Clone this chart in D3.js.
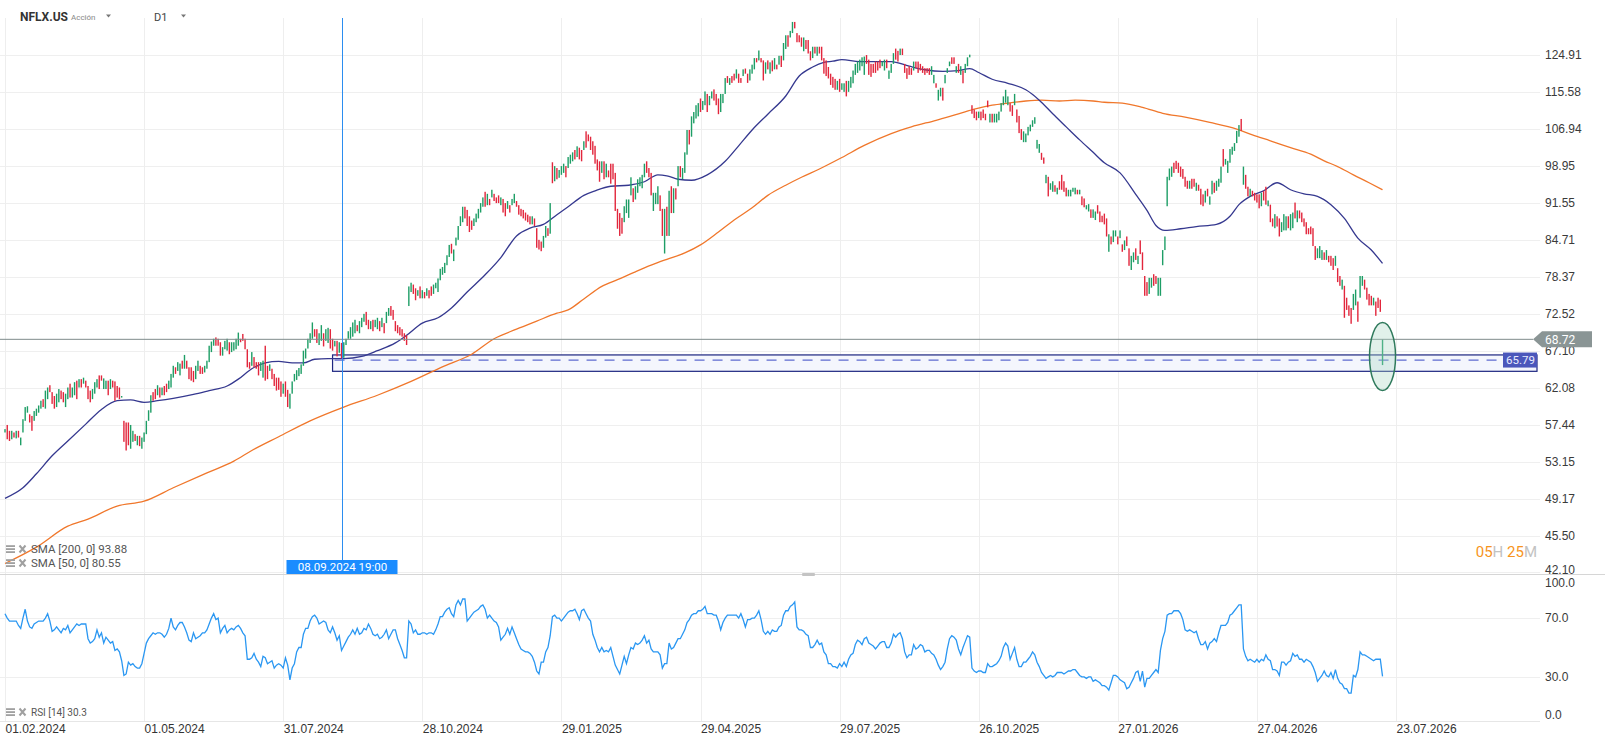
<!DOCTYPE html>
<html>
<head>
<meta charset="utf-8">
<script src="https://cdn.jsdelivr.net/npm/d3@7"></script>
<style>
  html, body { margin: 0; padding: 0; background: #fff; }
  svg { display: block; font-family: Roboto, "Noto Sans", sans-serif; }
</style>
</head>
<body>
<svg id="chart" width="1605" height="747"></svg>
<script>
// NFLX.US daily candles with SMA 200 / SMA 50 and RSI 14.
// Candle bars are ~1.5px wide at this zoom, so open/close are the visible bar ends.

const symbol = "NFLX.US";
const assetType = "Acción";
const interval = "D1";

const opens = [
  56.5,57.4,56.7,55.7,56.5,55.8,56.7,55.0,56.5,57.9, 58.9,58.7,58.5,57.9,58.5,58.9,59.4,60.6,59.4,60.6,
  62.4,61.5,61.0,59.6,60.2,61.7,61.5,59.6,60.6,62.6, 60.8,61.1,63.0,62.1,63.2,62.6,63.0,62.3,61.7,60.6,
  61.3,62.1,63.7,63.7,61.9,61.9,63.0,61.9,63.0,62.9, 62.3,62.1,60.8,57.9,57.7,57.7,54.6,55.4,56.3,55.0,
  56.1,54.6,55.4,56.3,57.9,58.9,61.5,61.9,61.1,62.1, 61.1,62.3,62.6,61.9,62.1,63.4,64.8,64.3,63.7,65.7,
  64.6,65.7,64.8,64.8,64.3,63.2,64.3,65.0,64.8,64.1, 64.6,65.5,66.9,67.8,69.0,68.8,68.3,66.4,67.3,67.1,
  68.3,66.9,67.1,67.3,67.8,68.8,69.5,68.8,67.3,65.5, 65.0,66.2,65.5,65.5,64.3,63.4,67.8,65.0,64.3,64.6,
  63.9,63.4,63.4,62.9,61.3,62.9,61.8,59.4,61.3,62.9, 63.1,63.6,63.9,65.0,66.0,67.4,68.2,68.8,70.2,70.2,
  67.9,68.5,69.6,68.5,68.2,70.2,68.8,67.7,68.5,66.8, 68.2,66.1,67.9,68.8,68.8,69.1,69.6,70.8,69.6,70.5,
  71.3,72.8,71.6,70.2,71.6,70.5,70.2,71.4,70.5,71.1, 71.1,72.2,73.7,73.1,71.4,70.8,70.5,70.2,69.6,69.3,
  73.7,75.9,77.1,76.5,75.3,76.8,74.9,75.9,75.3,76.2, 76.8,75.6,76.5,75.9,77.8,78.7,79.0,80.3,81.7,84.0,
  81.0,83.7,84.7,87.2,87.9,90.8,90.2,89.0,88.2,87.2, 87.9,88.6,89.7,90.8,93.7,91.1,92.3,92.6,93.3,92.6,
  93.0,91.1,92.3,91.5,90.4,91.1,91.1,91.5,91.9,91.1, 90.4,90.2,89.7,89.3,89.0,87.5,88.6,86.8,84.7,84.4,
  83.3,85.1,86.8,85.8,99.7,95.8,98.5,96.5,97.1,97.5, 98.9,98.5,99.4,99.9,102.3,100.8,102.8,102.3,102.3,106.4,
  105.7,105.2,104.2,103.2,100.3,99.9,97.5,99.9,96.6,98.0, 99.4,99.4,97.5,90.4,89.6,88.7,87.9,89.6,88.7,93.0,
  94.4,92.2,93.5,94.8,94.4,96.6,99.9,98.5,97.5,90.0, 91.3,91.3,93.0,90.4,82.3,90.8,85.4,94.8,89.6,94.4,
  94.8,98.9,96.2,97.5,101.3,106.7,105.2,108.2,109.3,109.8, 114.0,111.3,112.4,115.1,112.4,114.0,116.2,115.1,114.0,110.8,
  112.9,115.1,119.5,117.3,119.5,120.1,118.9,120.1,119.0,119.5, 121.4,120.1,118.4,120.1,121.2,124.1,123.5,124.1,123.5,120.1,
  123.5,120.1,123.5,121.2,122.4,122.4,124.7,123.5,126.5,130.2, 129.6,130.8,133.9,130.8,130.2,129.6,125.9,128.9,128.9,125.9,
  124.1,127.1,124.7,127.1,127.1,124.1,123.5,121.8,120.1,119.3, 118.8,116.1,118.8,116.1,115.6,118.3,115.6,116.6,117.7,119.8,
  120.3,120.9,122.0,119.8,124.9,123.7,122.6,122.6,123.2,123.2, 123.7,122.0,120.9,123.7,118.8,120.3,122.6,126.6,126.0,124.9,
  126.6,122.6,121.5,122.0,121.5,120.9,123.2,123.2,122.6,122.0, 121.5,121.5,121.5,119.8,117.7,117.7,113.5,114.5,116.6,117.7,
  120.3,122.0,124.3,124.3,120.3,122.6,119.8,120.9,120.3,122.0, 124.3,112.4,111.4,110.9,109.4,110.9,111.4,110.4,113.5,108.4,
  110.4,108.4,108.4,108.9,110.9,112.4,113.0,112.4,112.9,112.4, 112.4,111.4,109.9,106.9,104.0,104.0,105.5,106.4,107.4,108.1,
  102.6,101.7,101.7,100.7,95.4,96.7,94.1,93.7,95.0,93.2, 95.8,97.1,95.8,94.5,92.8,92.8,93.7,93.2,94.1,93.2,
  92.8,92.4,90.3,89.9,90.3,88.7,88.3,91.1,89.9,89.1, 89.5,88.6,82.6,85.3,84.3,85.3,85.3,85.0,83.9,82.9,
  85.3,83.2,79.5,80.8,83.2,80.5,84.6,82.5,78.5,77.5, 75.6,76.6,78.8,78.5,75.3,75.3,80.3,82.9,90.9,96.0,
  96.7,99.6,100.0,99.6,98.8,98.3,96.7,95.9,94.3,96.3, 96.3,93.9,95.1,94.3,93.2,91.6,94.3,91.2,93.2,95.5,
  93.9,94.7,95.5,102.5,99.2,97.5,99.6,101.3,102.1,103.8, 105.2,109.2,95.1,97.1,94.7,92.8,93.9,93.5,93.2,93.2,
  90.9,93.9,94.7,90.9,91.2,88.6,86.8,89.0,88.6,86.1, 86.4,86.4,89.0,86.4,86.8,91.6,87.9,90.1,89.7,88.6,
  87.9,86.8,87.1,86.8,83.6,81.5,81.5,81.2,82.5,81.2, 81.9,81.9,81.5,80.2,79.8,78.5,76.3,76.9,75.0,73.8,
  73.4,73.1,73.8,74.4,75.0,76.9,77.9,76.6,75.6,75.3, 73.8,74.4,75.0,74.7,65.1
];

const closes = [
  56.9,55.7,55.5,56.7,55.9,56.7,55.9,55.9,58.1,59.6, 59.7,57.7,56.7,59.1,59.4,59.8,60.4,59.6,61.7,62.1,
  61.5,60.0,59.4,61.3,61.9,60.6,60.2,61.3,62.1,60.8, 62.1,62.8,60.6,63.2,62.1,63.4,62.1,60.6,60.2,61.9,
  62.8,63.2,61.9,63.0,63.3,63.0,61.1,63.2,62.1,60.4, 60.8,60.6,61.0,55.4,54.4,55.0,57.4,56.7,55.5,56.1,
  54.9,55.9,56.5,57.9,59.2,61.1,60.4,60.6,62.4,60.8, 62.1,61.1,61.5,63.0,63.9,65.0,63.9,65.5,65.3,64.6,
  66.5,64.6,63.2,63.0,62.8,65.0,65.7,63.9,63.9,65.0, 65.7,67.8,68.4,68.8,67.8,67.8,66.4,67.6,68.5,68.8,
  66.6,68.3,68.3,68.8,69.7,68.3,68.5,67.3,64.8,64.6, 66.9,64.8,64.6,63.7,65.5,65.7,63.0,63.2,65.2,63.2,
  62.3,61.7,61.8,60.9,62.6,60.9,59.6,61.3,62.9,63.9, 64.4,64.7,65.2,67.1,67.4,68.8,69.6,71.2,69.1,68.2,
  69.6,70.8,67.7,70.2,70.4,67.4,67.1,68.5,66.3,68.3, 66.0,68.3,68.8,69.9,70.5,71.2,71.6,69.9,71.4,71.9,
  72.5,70.8,70.2,71.4,69.9,71.6,71.9,69.9,71.9,69.6, 72.8,73.4,72.2,71.6,69.9,69.6,69.3,69.1,68.5,67.9,
  76.8,77.4,75.6,74.6,76.2,74.9,76.2,74.9,76.5,74.9, 75.3,77.1,77.4,78.1,79.7,80.0,80.7,82.0,83.8,82.3,
  83.0,85.1,87.2,89.0,90.8,88.6,87.2,86.1,86.5,88.6, 89.5,90.4,91.5,92.6,90.8,93.3,91.1,94.1,91.9,91.5,
  91.5,92.6,89.7,89.0,91.9,89.7,92.3,93.3,90.8,89.3, 89.0,88.6,88.2,87.9,87.5,89.0,87.2,83.3,83.0,82.7,
  85.4,87.2,85.4,91.5,95.4,98.9,96.2,98.1,98.9,99.4, 96.6,100.8,101.3,101.8,100.3,103.1,100.3,99.9,104.2,102.8,
  104.2,102.3,101.3,99.4,98.0,95.7,99.9,96.2,99.4,96.6, 95.3,96.2,90.0,86.7,85.4,85.8,90.9,92.2,92.2,96.6,
  91.7,94.8,96.2,96.6,97.1,99.4,97.5,96.6,93.0,93.5, 93.5,94.8,90.0,85.4,90.4,85.4,93.9,89.6,94.4,92.2,
  98.9,96.6,98.5,101.8,106.7,103.5,109.8,110.8,112.4,112.9, 110.8,113.4,115.7,110.8,114.6,115.7,113.5,112.4,110.3,115.1,
  115.1,119.0,117.8,119.0,117.8,118.4,121.2,117.8,117.8,121.2, 120.1,117.8,121.2,122.4,124.1,123.0,126.1,123.0,118.4,123.0,
  121.2,123.0,120.7,124.1,121.2,124.7,121.8,128.1,130.2,127.1, 131.4,133.9,132.1,128.3,128.3,127.1,129.6,126.5,125.3,123.5,
  127.1,125.3,127.1,125.3,123.5,120.1,119.5,118.9,117.3,116.6, 116.1,118.3,115.6,117.7,117.7,114.5,118.3,119.3,120.9,122.6,
  123.2,123.7,124.3,124.5,122.6,119.8,119.3,120.3,120.3,120.9, 121.5,123.2,123.7,121.5,120.9,122.6,125.4,123.7,123.2,126.6,
  124.9,120.3,118.8,119.8,119.8,123.2,121.5,120.3,120.9,120.3, 119.8,120.3,119.8,122.0,119.8,116.6,116.1,116.6,113.5,119.8,
  121.5,123.2,122.6,122.6,122.0,120.3,122.0,117.7,122.6,124.3, 125.0,110.4,109.4,108.9,110.9,108.9,109.4,108.9,111.9,110.4,
  108.4,110.4,110.4,110.9,112.9,114.5,116.1,114.5,110.9,109.9, 115.1,108.4,106.0,104.5,106.4,105.9,107.4,107.9,108.9,109.6,
  104.5,103.6,100.2,99.4,97.1,92.8,95.4,95.8,93.7,94.5, 94.1,94.1,93.7,92.8,94.1,94.1,94.5,94.5,93.2,94.1,
  91.1,90.7,91.1,91.3,88.7,90.3,89.9,89.5,87.9,87.9, 87.5,85.3,85.7,83.9,86.4,86.4,83.9,86.4,82.6,84.6,
  83.6,80.2,81.9,82.5,81.2,81.9,82.2,79.5,75.3,75.3, 78.2,78.2,76.9,77.2,78.2,78.2,82.9,85.3,96.7,98.4,
  98.8,97.5,98.3,97.5,96.7,96.3,94.7,94.3,95.9,94.3, 94.7,95.5,93.9,91.2,90.9,93.9,92.8,92.8,95.9,93.5,
  95.9,96.3,98.8,98.8,100.4,100.0,102.5,103.0,103.8,106.5, 107.8,106.5,98.8,94.3,92.8,94.3,92.8,92.0,91.6,90.5,
  93.5,92.0,91.2,92.0,87.9,87.1,89.4,87.1,85.3,87.9, 89.4,89.0,86.8,89.4,89.7,88.6,90.1,88.6,87.9,87.1,
  85.7,85.7,85.7,83.6,81.2,83.2,83.6,82.9,81.2,82.9, 80.8,80.2,79.5,81.9,77.5,76.9,77.9,71.9,73.1,72.2,
  71.0,75.6,76.3,71.3,78.5,78.5,76.3,74.7,73.8,73.8, 75.0,72.2,73.4,72.8,68.72
];

// [bar index, value] read at intervals along each moving average
const sma200 = [
  [0,42.9],[14,44.4],[28,46.4],[37,47.1],[50,48.4],[62,48.9],[75,50.3],[90,51.9],[102,53.2],[110,54.4],
  [122,56.0],[136,57.9],[151,59.6],[166,61.1],[181,62.9],[196,65.0],[208,66.6],[218,68.8],[228,70.2],[237,71.4],
  [246,72.6],[251,73.1],[258,74.8],[266,76.8],[273,77.9],[281,79.2],[288,80.3],[295,81.3],[303,82.4],[310,83.8],
  [318,86.1],[325,88.3],[333,90.6],[340,93.0],[348,95.0],[355,96.6],[363,98.3],[373,100.7],[383,103.3],[395,105.9],
  [404,107.4],[415,108.9],[425,110.4],[433,111.6],[440,112.4],[447,112.9],[455,113.4],[462,113.6],[470,113.4],[477,113.6],
  [485,113.4],[490,113.1],[498,112.9],[507,111.9],[516,110.5],[526,109.6],[537,108.4],[549,106.9],[556,105.6],[564,104.3],
  [573,102.8],[582,101.4],[588,100.0],[594,98.8],[601,97.1],[608,95.5],[614,94.1]
];
const sma50 = [
  [0,49.2],[8,50.3],[14,51.8],[21,53.8],[28,55.5],[36,57.5],[43,59.3],[50,60.4],[56,60.5],[62,60.2],
  [68,60.4],[75,60.7],[84,61.2],[91,61.7],[99,62.3],[104,63.2],[110,64.6],[116,65.4],[122,65.6],[128,65.4],
  [133,65.4],[138,65.9],[144,66.0],[151,66.0],[159,66.3],[166,67.1],[174,68.2],[179,69.3],[186,71.1],[193,71.9],
  [199,73.4],[206,75.9],[214,78.7],[221,81.6],[228,85.4],[234,86.8],[240,87.5],[246,89.3],[251,90.8],[258,93.0],
  [263,93.9],[270,94.8],[278,95.0],[285,95.7],[291,97.1],[295,96.9],[300,96.2],[306,96.0],[313,97.1],[321,99.9],
  [327,103.2],[333,106.7],[340,110.3],[348,114.6],[354,119.5],[360,121.8],[365,123.0],[369,123.3],[373,123.7],[381,123.2],
  [388,123.2],[395,123.2],[403,122.0],[410,121.1],[418,120.7],[425,120.9],[430,121.4],[434,120.4],[440,118.7],[447,117.7],
  [455,116.1],[461,113.6],[467,110.4],[473,107.4],[479,104.5],[485,101.8],[490,99.6],[497,97.5],[504,93.2],[509,90.1],
  [513,87.3],[517,86.4],[524,86.7],[531,87.1],[540,87.5],[546,89.0],[550,91.2],[555,92.8],[561,93.9],[567,95.5],
  [573,94.1],[579,93.3],[585,92.8],[591,91.2],[597,88.6],[603,85.0],[609,82.9],[614,80.6]
];

const rsi = [
  73,70,68,68,68,68,65,63,70,76, 68,64,63,66,67,68,68,68,70,73, 68,61,62,64,62,60,63,62,65,60,
  62,64,66,65,66,66,66,56,53,54, 56,62,57,60,53,57,55,53,54,48, 49,47,41,31,32,40,38,39,37,36,
  36,39,46,53,56,58,60,59,60,60, 59,57,59,63,70,64,62,65,67,67, 64,60,55,54,60,56,57,58,60,60,
  62,66,70,73,69,70,60,63,65,60, 62,63,62,64,65,63,60,58,42,42, 43,46,42,40,37,44,43,39,40,41,
  36,38,39,38,36,43,38,28,36,39, 47,50,50,59,63,63,68,71,72,70, 66,67,68,67,62,60,64,60,55,58,
  48,51,54,57,59,62,59,63,59,60, 63,62,66,63,59,58,59,56,57,59, 62,56,59,62,62,56,52,48,43,43,
  68,66,60,62,59,59,60,60,59,60, 60,59,62,66,71,71,74,76,77,73, 71,79,82,79,83,83,68,70,72,74,
  75,76,78,79,76,70,72,70,68,67, 64,55,57,59,63,59,64,60,56,52, 49,48,47,47,46,44,40,34,32,40,
  40,47,50,58,71,72,70,70,68,70, 72,74,75,75,76,73,69,75,76,73, 70,68,59,55,50,47,50,47,48,47,
  50,44,38,35,32,38,44,39,45,50, 49,53,52,53,55,58,53,55,49,47, 47,47,45,36,39,39,53,49,50,53,
  56,56,59,62,67,69,72,73,73,75, 75,76,78,73,73,73,72,72,68,62, 67,70,72,72,72,72,72,70,73,69,
  64,69,69,70,70,72,75,69,61,59, 61,59,62,61,61,64,65,72,75,75, 78,79,81,64,62,62,61,59,58,50,
  50,52,55,52,53,47,45,39,39,37, 37,36,39,37,40,37,42,45,46,52, 55,54,52,56,57,53,52,51,49,51,
  53,54,54,50,50,53,59,57,59,60, 56,47,43,45,45,52,49,50,52,51, 47,48,48,46,45,42,38,35,37,40,
  49,56,58,57,55,49,45,50,54,58, 57,36,34,33,34,34,33,33,39,37, 37,38,39,41,44,50,53,51,42,46,
  50,42,37,37,40,40,42,44,47,45, 40,37,33,31,29,30,31,30,31,33, 33,33,32,33,34,34,35,35,33,31,
  30,30,29,30,30,27,28,27,26,24, 24,23,21,26,31,31,30,28,27,26, 22,23,26,29,33,34,27,34,23,29,
  29,31,33,35,33,48,56,61,72,73, 73,75,75,75,73,69,62,61,62,61, 60,61,56,52,52,54,49,53,54,56,
  54,60,65,65,65,67,72,73,75,77, 79,79,49,44,41,42,41,40,42,40, 42,41,45,42,41,35,35,34,31,40,
  40,38,40,41,46,44,45,42,42,40, 42,41,40,37,33,27,29,31,34,31, 30,33,29,35,29,26,25,22,22,19,
  19,31,30,35,47,45,45,44,43,42, 41,42,42,42,30.3
];

const priceTicks = [124.91,115.58,106.94,98.95,91.55,84.71,78.37,72.52,67.10,62.08,57.44,53.15,49.17,45.50,42.10];
const rsiTicks = [100, 70, 30, 0];
const dateLabels = ["01.02.2024","01.05.2024","31.07.2024","28.10.2024","29.01.2025","29.04.2025",
                    "29.07.2025","26.10.2025","27.01.2026","27.04.2026","23.07.2026"];

const lastPrice = 68.72;
const orderLevel = 65.79;
const zoneTop = 66.5;
const zoneBottom = 64.25;
const zoneStartBar = 146;
const crosshairBar = 150;
const crosshairLabel = "08.09.2024 19:00";
const markerBar = 614;
const markerTop = 71.2;
const markerBottom = 61.7;
const sma200Last = 93.88;
const sma50Last = 80.55;
const rsiLast = 30.3;
const countdown = [["05", true], ["H ", false], ["25", true], ["M", false]];

// ---- layout ----
const W = 1605, H = 747;
const PANE_TOP = 18, PANE_BOTTOM = 574, RSI_TOP = 574, RSI_BOTTOM = 721;
const PLOT_RIGHT = 1540;
const BARS_PER_LABEL = 62;
const GREEN = "#1e9e66", RED = "#e2263c";

const svg = d3.select("#chart");

const x = d3.scaleLinear().domain([0, 620]).range([5, 1396]);
const y = d3.scaleLog().domain([124.91, 45.50]).range([55, 535.5]);
const yr = d3.scaleLinear().domain([0, 100]).range([RSI_BOTTOM, RSI_TOP]);

const defs = svg.append("defs");
defs.append("clipPath").attr("id", "pricePane")
  .append("rect").attr("x", 0).attr("y", PANE_TOP).attr("width", PLOT_RIGHT).attr("height", PANE_BOTTOM - PANE_TOP);
defs.append("clipPath").attr("id", "rsiPane")
  .append("rect").attr("x", 0).attr("y", RSI_TOP).attr("width", PLOT_RIGHT).attr("height", RSI_BOTTOM - RSI_TOP);

// grid
const grid = svg.append("g");
grid.selectAll("line.h").data(priceTicks).join("line")
  .attr("x1", 0).attr("x2", PLOT_RIGHT)
  .attr("y1", d => Math.round(y(d)) + 0.5).attr("y2", d => Math.round(y(d)) + 0.5)
  .attr("stroke", "#efefef");
grid.selectAll("line.r").data([70, 30]).join("line")
  .attr("x1", 0).attr("x2", PLOT_RIGHT)
  .attr("y1", d => Math.round(yr(d)) + 0.5).attr("y2", d => Math.round(yr(d)) + 0.5)
  .attr("stroke", "#efefef");
const dateTicks = d3.range(0, dateLabels.length * BARS_PER_LABEL, BARS_PER_LABEL);
grid.selectAll("line.v").data(dateTicks).join("line")
  .attr("x1", d => Math.round(x(d)) + 0.5).attr("x2", d => Math.round(x(d)) + 0.5)
  .attr("y1", PANE_TOP).attr("y2", RSI_BOTTOM)
  .attr("stroke", "#eeeeee");
svg.append("line").attr("x1", 0).attr("x2", PLOT_RIGHT)
  .attr("y1", RSI_BOTTOM + 0.5).attr("y2", RSI_BOTTOM + 0.5).attr("stroke", "#e6e6e6");
svg.append("line").attr("x1", 0).attr("x2", W)
  .attr("y1", PANE_BOTTOM + 0.5).attr("y2", PANE_BOTTOM + 0.5).attr("stroke", "#d6d6d6");
svg.append("rect").attr("x", 802).attr("y", PANE_BOTTOM - 1).attr("width", 13).attr("height", 3)
  .attr("rx", 1).attr("fill", "#c4c4c4");

// zone + order level
const zone = svg.append("g");
zone.append("rect")
  .attr("x", x(zoneStartBar)).attr("y", y(zoneTop))
  .attr("width", 1537 - x(zoneStartBar)).attr("height", y(zoneBottom) - y(zoneTop))
  .attr("fill", "#f4f6fd").attr("stroke", "#1c2580").attr("stroke-width", 1.2);
zone.append("line")
  .attr("x1", x(zoneStartBar) + 2).attr("x2", 1503)
  .attr("y1", y(orderLevel)).attr("y2", y(orderLevel))
  .attr("stroke", "#5d6bd0").attr("stroke-width", 1.2).attr("stroke-dasharray", "10,8");

// moving averages
const pricePane = svg.append("g").attr("clip-path", "url(#pricePane)");
const maLine = d3.line().x(d => x(d[0])).y(d => y(d[1])).curve(d3.curveMonotoneX);
pricePane.append("path").datum(sma200).attr("d", maLine)
  .attr("fill", "none").attr("stroke", "#f0772b").attr("stroke-width", 1.3);
pricePane.append("path").datum(sma50).attr("d", maLine)
  .attr("fill", "none").attr("stroke", "#35388f").attr("stroke-width", 1.3);

// candles
pricePane.append("g").selectAll("rect").data(d3.range(opens.length)).join("rect")
  .attr("x", i => x(i) - 0.7)
  .attr("width", 1.4)
  .attr("y", i => y(Math.max(opens[i], closes[i])))
  .attr("height", i => Math.max(1, y(Math.min(opens[i], closes[i])) - y(Math.max(opens[i], closes[i]))))
  .attr("fill", i => closes[i] >= opens[i] ? GREEN : RED);

// last price line
svg.append("line").attr("x1", 0).attr("x2", 1533)
  .attr("y1", y(lastPrice)).attr("y2", y(lastPrice))
  .attr("stroke", "#7f8b8b").attr("stroke-width", 1);

// marker ellipse around last candle
const ey0 = y(markerTop), ey1 = y(markerBottom);
svg.append("ellipse")
  .attr("cx", x(markerBar)).attr("cy", (ey0 + ey1) / 2)
  .attr("rx", 13).attr("ry", (ey1 - ey0) / 2)
  .attr("fill", "rgba(170,215,195,0.35)").attr("stroke", "#2f7a5c").attr("stroke-width", 1.5);

// RSI
svg.append("g").attr("clip-path", "url(#rsiPane)")
  .append("path").datum(rsi)
  .attr("d", d3.line().x((d, i) => x(i)).y(d => yr(d)))
  .attr("fill", "none").attr("stroke", "#2a97f2").attr("stroke-width", 1.3);

// axes
const priceAxis = svg.append("g").attr("transform", `translate(${PLOT_RIGHT},0)`)
  .call(d3.axisRight(y).tickValues(priceTicks).tickFormat(d3.format(".2f")).tickSize(0).tickPadding(5));
priceAxis.select(".domain").remove();
priceAxis.selectAll("text").attr("fill", "#3a3a3a").style("font-size", "12px")
  .attr("dy", (d, i) => i === priceTicks.length - 1 ? "0.05em" : "0.32em");

const rsiAxis = svg.append("g").attr("transform", `translate(${PLOT_RIGHT},0)`)
  .call(d3.axisRight(yr).tickValues(rsiTicks).tickFormat(d3.format(".1f")).tickSize(0).tickPadding(5));
rsiAxis.select(".domain").remove();
rsiAxis.selectAll("text").attr("fill", "#3a3a3a").style("font-size", "12px")
  .attr("dy", d => d === 100 ? "1.05em" : d === 0 ? "-0.2em" : "0.32em");

const dateAxis = svg.append("g").attr("transform", `translate(0,${RSI_BOTTOM})`)
  .call(d3.axisBottom(x).tickValues(dateTicks).tickFormat((d, i) => dateLabels[i]).tickSize(0).tickPadding(3));
dateAxis.select(".domain").remove();
dateAxis.selectAll("text").attr("text-anchor", "start").attr("fill", "#333").style("font-size", "12px");

// order level tag
svg.append("rect").attr("x", 1503).attr("y", y(orderLevel) - 7.5).attr("width", 34).attr("height", 15)
  .attr("fill", "#4b57bb");
svg.append("text").attr("x", 1506).attr("y", y(orderLevel)).attr("dy", "0.35em")
  .attr("fill", "#e8ebff").style("font-size", "11.5px").text(d3.format(".2f")(orderLevel));

// last price tag
const ly = y(lastPrice);
svg.append("path")
  .attr("d", `M1533,${ly} L1542,${ly - 8} L1592,${ly - 8} L1592,${ly + 8} L1542,${ly + 8} Z`)
  .attr("fill", "#8a9595");
svg.append("text").attr("x", 1545).attr("y", ly).attr("dy", "0.35em")
  .attr("fill", "#fff").style("font-size", "12px").text(d3.format(".2f")(lastPrice));

// crosshair
const cx = Math.round(x(crosshairBar)) + 0.5;
svg.append("line").attr("x1", cx).attr("x2", cx).attr("y1", PANE_TOP).attr("y2", 560)
  .attr("stroke", "#2b8df0").attr("stroke-width", 1);
svg.append("rect").attr("x", cx - 56).attr("y", 560).attr("width", 111).attr("height", 14)
  .attr("fill", "#1a8cff");
svg.append("text").attr("x", cx).attr("y", 567).attr("dy", "0.35em").attr("text-anchor", "middle")
  .attr("fill", "#fff").style("font-size", "11.5px").text(crosshairLabel);

// countdown
const cd = svg.append("text").attr("x", 1537).attr("y", 552).attr("dy", "0.35em")
  .attr("text-anchor", "end").style("font-size", "15px");
countdown.forEach(([t, hi]) => cd.append("tspan").attr("fill", hi ? "#f7941d" : "#c2c2c2").text(t));

// header
const header = svg.append("g");
header.append("text").attr("x", 20).attr("y", 17).attr("dy", "0.35em")
  .attr("fill", "#333").style("font-size", "12px").style("font-weight", "bold").text(symbol);
header.append("text").attr("x", 71).attr("y", 17).attr("dy", "0.35em")
  .attr("fill", "#888").style("font-size", "8px").text(assetType);
header.append("text").attr("x", 154).attr("y", 17).attr("dy", "0.35em")
  .attr("fill", "#444").style("font-size", "11px").text(interval);
[106, 181].forEach(tx => header.append("path")
  .attr("d", `M${tx},14.5 L${tx + 5},14.5 L${tx + 2.5},17.5 Z`).attr("fill", "#777"));

// legends
function legendRow(yc, label, size) {
  const g = svg.append("g");
  [-3, 0, 3].forEach(dy => g.append("rect").attr("x", 6).attr("y", yc + dy - 0.8)
    .attr("width", 9).attr("height", 1.8).attr("fill", "#a0a0a0"));
  g.append("path").attr("d", `M19.5,${yc - 3.5} L25.5,${yc + 3.5} M25.5,${yc - 3.5} L19.5,${yc + 3.5}`)
    .attr("stroke", "#a0a0a0").attr("stroke-width", 2);
  g.append("text").attr("x", 31).attr("y", yc).attr("dy", "0.35em")
    .attr("fill", "#555").style("font-size", size).text(label);
}
legendRow(549, `SMA [200, 0] ${sma200Last.toFixed(2)}`, "11.5px");
legendRow(563, `SMA [50, 0] ${sma50Last.toFixed(2)}`, "11.5px");
legendRow(712, `RSI [14] ${rsiLast.toFixed(1)}`, "10px");
</script>
</body>
</html>
